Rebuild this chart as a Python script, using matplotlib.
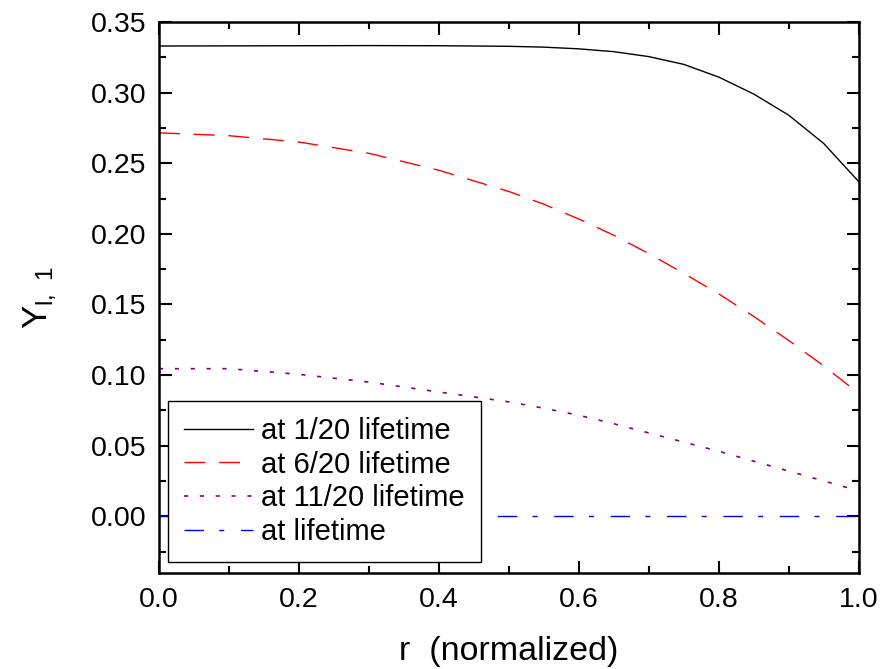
import numpy as np
import matplotlib
matplotlib.use('Agg')
import matplotlib.pyplot as plt
from matplotlib.ticker import MultipleLocator

plt.rcParams['font.family'] = ['Liberation Sans', 'DejaVu Sans']
plt.rcParams['mathtext.fontset'] = 'custom'
plt.rcParams['mathtext.rm'] = 'Liberation Sans'

# radius (normalized)
r = [0.0, 0.1, 0.2, 0.3, 0.4, 0.5, 0.55, 0.6, 0.65, 0.7, 0.75, 0.8, 0.85, 0.9, 0.95, 1.0]
# values
y_1_20 = [0.3330, 0.3331, 0.3332, 0.3333, 0.3332, 0.3328, 0.3322, 0.3310, 0.3290, 0.3255,
          0.3200, 0.3110, 0.2990, 0.2840, 0.2640, 0.2370]
y_6_20 = [0.2715, 0.2695, 0.2650, 0.2570, 0.2450, 0.2300, 0.2210, 0.2105, 0.1990, 0.1860,
          0.1720, 0.1575, 0.1415, 0.1245, 0.1065, 0.0870]
y_11_20 = [0.1045, 0.1045, 0.1005, 0.0950, 0.0880, 0.0810, 0.0765, 0.0715, 0.0655, 0.0590,
           0.0525, 0.0460, 0.0390, 0.0320, 0.0250, 0.0180]
y_life = [0.0] * len(r)

labels = ['at 1/20 lifetime', 'at 6/20 lifetime', 'at 11/20 lifetime', 'at lifetime']

fig = plt.figure(figsize=(8.9, 6.69), dpi=100)
ax = fig.add_axes([0.1787, 0.1439, 0.7861, 0.8232])

ax.plot(r, y_1_20, color='black', lw=1.0, label=labels[0])
ax.plot(r, y_6_20, color='red', lw=1.0, dashes=(15, 10), label=labels[1])
ax.plot(r, y_11_20, color='purple', lw=1.2, dashes=(2.5, 7), label=labels[2])
ax.plot(r, y_life, color='blue', lw=1.0, dashes=(14, 11, 3.6, 12), label=labels[3])

ax.set_xlim(0, 1.0)
ax.set_ylim(-0.04, 0.35)
ax.xaxis.set_major_locator(MultipleLocator(0.2))
ax.xaxis.set_minor_locator(MultipleLocator(0.1))
ax.yaxis.set_major_locator(MultipleLocator(0.05))
ax.yaxis.set_minor_locator(MultipleLocator(0.025))
ax.xaxis.set_major_formatter(plt.FuncFormatter(lambda v, p: '%.1f' % v))
ax.yaxis.set_major_formatter(plt.FuncFormatter(lambda v, p: '%.2f' % v))

ax.tick_params(which='both', direction='in', top=True, right=True, width=1.5,
               labelsize=20.5)
ax.tick_params(axis='x', pad=10)
ax.tick_params(axis='y', pad=9)
ax.tick_params(which='major', length=9)
ax.tick_params(which='minor', length=5)
for s in ax.spines.values():
    s.set_linewidth(1.8)

ax.set_xlabel('r  (normalized)', fontsize=24.5, labelpad=17)
ax.set_ylabel(r'Y$_{\mathregular{l,\ 1}}$', fontsize=25, labelpad=24)

leg = ax.legend(loc='lower left', bbox_to_anchor=(0.013, 0.019), borderaxespad=0,
                fontsize=21, fancybox=False, edgecolor='black', framealpha=1,
                handlelength=2.35, handletextpad=0.3, labelspacing=0.2,
                borderpad=0.55)
leg.get_frame().set_linewidth(1.0)

fig.savefig('out.png', dpi=100)
